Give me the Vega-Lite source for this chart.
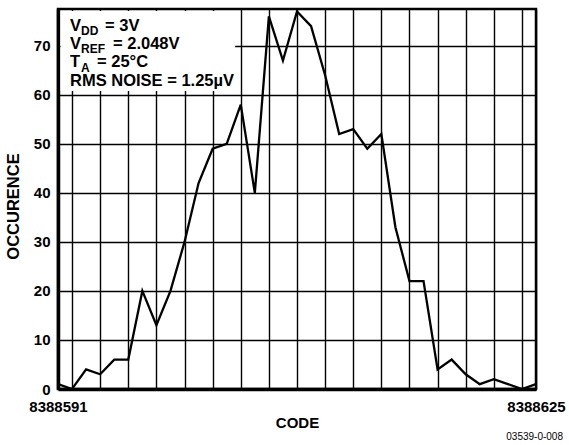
{
  "$schema": "https://vega.github.io/schema/vega-lite/v6.json",
  "width": 478,
  "height": 380,
  "autosize": {"type": "none"},
  "padding": {"left": 58, "top": 9, "right": 33, "bottom": 56},
  "background": "white",
  "config": {
    "font": "Liberation Sans",
    "view": {"stroke": "black", "strokeWidth": 2.5}
  },
  "title": {
    "text": "03539-0-008", "orient": "bottom", "anchor": "end", "frame": "group",
    "fontSize": 10, "fontWeight": "normal", "font": "Liberation Sans", "color": "black",
    "dx": 27, "offset": 2
  },
  "resolve": {"axis": {"x": "independent", "y": "independent"}},
  "datasets": {
    "hist": [
      {"code": 8388591, "count": 1}, {"code": 8388592, "count": 0}, {"code": 8388593, "count": 4},
      {"code": 8388594, "count": 3}, {"code": 8388595, "count": 6}, {"code": 8388596, "count": 6},
      {"code": 8388597, "count": 20}, {"code": 8388598, "count": 13}, {"code": 8388599, "count": 20},
      {"code": 8388600, "count": 30}, {"code": 8388601, "count": 42}, {"code": 8388602, "count": 49},
      {"code": 8388603, "count": 50}, {"code": 8388604, "count": 58}, {"code": 8388605, "count": 40},
      {"code": 8388606, "count": 76}, {"code": 8388607, "count": 67}, {"code": 8388608, "count": 77},
      {"code": 8388609, "count": 74}, {"code": 8388610, "count": 64}, {"code": 8388611, "count": 52},
      {"code": 8388612, "count": 53}, {"code": 8388613, "count": 49}, {"code": 8388614, "count": 52},
      {"code": 8388615, "count": 33}, {"code": 8388616, "count": 22}, {"code": 8388617, "count": 22},
      {"code": 8388618, "count": 4}, {"code": 8388619, "count": 6}, {"code": 8388620, "count": 3},
      {"code": 8388621, "count": 1}, {"code": 8388622, "count": 2}, {"code": 8388623, "count": 1},
      {"code": 8388624, "count": 0}, {"code": 8388625, "count": 1}
    ]
  },
  "layer": [
    {
      "data": {"name": "hist"},
      "mark": {"type": "line", "color": "black", "strokeWidth": 2.3},
      "encoding": {
        "x": {
          "field": "code", "type": "quantitative",
          "scale": {"domain": [8388591, 8388625], "nice": false, "zero": false},
          "axis": {
            "grid": true, "gridColor": "black", "gridWidth": 1.4, "domainColor": "black", "domainWidth": 3.5,
            "ticks": false,
            "values": [8388591, 8388592, 8388594, 8388596, 8388598, 8388600, 8388602, 8388604, 8388606, 8388608, 8388610, 8388612, 8388614, 8388616, 8388618, 8388620, 8388622, 8388624, 8388625],
            "format": "d",
            "labelExpr": "datum.value == 8388591 || datum.value == 8388625 ? datum.label : ''",
            "labelFlush": false, "labelOverlap": false, "labelPadding": 10,
            "labelFontSize": 15, "labelFontWeight": "bold", "labelColor": "black",
            "title": "CODE", "titleFontSize": 15, "titleFontWeight": "bold", "titleColor": "black",
            "titleY": 38, "titleBaseline": "alphabetic"
          }
        },
        "y": {
          "field": "count", "type": "quantitative",
          "scale": {"domain": [0, 77.5], "nice": false},
          "axis": {
            "grid": true, "gridColor": "black", "gridWidth": 1.4, "domainColor": "black", "domainWidth": 3.5,
            "ticks": false,
            "values": [0, 10, 20, 30, 40, 50, 60, 70],
            "labelPadding": 8, "labelFontSize": 15, "labelFontWeight": "bold", "labelColor": "black",
            "title": "OCCURENCE", "titleFontSize": 16.5, "titleFontWeight": "bold", "titleColor": "black",
            "titlePadding": 12, "titleY": 197
          }
        }
      }
    },
    {
      "data": {"values": [{}]},
      "mark": {"type": "rect", "fill": "white"},
      "encoding": {
        "x": {"datum": 8388591.18, "type": "quantitative", "axis": null},
        "x2": {"datum": 8388603.6},
        "y": {"datum": 60.8, "type": "quantitative", "axis": null},
        "y2": {"datum": 77.1}
      }
    },
    {
      "data": {"values": [{}]},
      "mark": {"type": "text", "align": "left", "baseline": "alphabetic", "fontSize": 16.5, "fontWeight": "bold", "font": "Liberation Sans", "color": "black", "lineHeight": 18.3, "dx": 12, "dy": 21.7},
      "encoding": {
        "x": {"datum": 8388591, "type": "quantitative", "axis": null},
        "y": {"datum": 77.5, "type": "quantitative", "axis": null},
        "text": {"value": ["V", "V", "T", "RMS NOISE = 1.25µV"]}
      }
    },
    {
      "data": {"values": [{}]},
      "mark": {"type": "text", "align": "left", "baseline": "alphabetic", "fontSize": 12, "fontWeight": "bold", "font": "Liberation Sans", "color": "black", "lineHeight": 18.3, "dx": 23, "dy": 26},
      "encoding": {
        "x": {"datum": 8388591, "type": "quantitative", "axis": null},
        "y": {"datum": 77.5, "type": "quantitative", "axis": null},
        "text": {"value": ["DD", "REF", "A"]}
      }
    },
    {
      "data": {"values": [{}]},
      "mark": {"type": "text", "align": "left", "baseline": "alphabetic", "fontSize": 16.5, "fontWeight": "bold", "font": "Liberation Sans", "color": "black", "dx": 47, "dy": 21.7},
      "encoding": {
        "x": {"datum": 8388591, "type": "quantitative", "axis": null},
        "y": {"datum": 77.5, "type": "quantitative", "axis": null},
        "text": {"value": "= 3V"}
      }
    },
    {
      "data": {"values": [{}]},
      "mark": {"type": "text", "align": "left", "baseline": "alphabetic", "fontSize": 16.5, "fontWeight": "bold", "font": "Liberation Sans", "color": "black", "dx": 55, "dy": 40},
      "encoding": {
        "x": {"datum": 8388591, "type": "quantitative", "axis": null},
        "y": {"datum": 77.5, "type": "quantitative", "axis": null},
        "text": {"value": "= 2.048V"}
      }
    },
    {
      "data": {"values": [{}]},
      "mark": {"type": "text", "align": "left", "baseline": "alphabetic", "fontSize": 16.5, "fontWeight": "bold", "font": "Liberation Sans", "color": "black", "dx": 39, "dy": 58.3},
      "encoding": {
        "x": {"datum": 8388591, "type": "quantitative", "axis": null},
        "y": {"datum": 77.5, "type": "quantitative", "axis": null},
        "text": {"value": "= 25°C"}
      }
    }
  ]
}
